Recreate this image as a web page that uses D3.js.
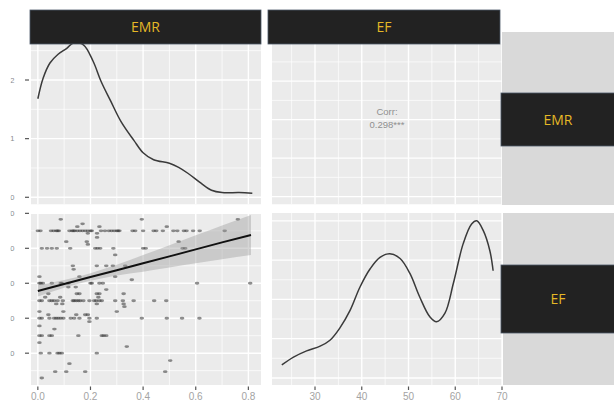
<!DOCTYPE html>
<html>
<head>
<meta charset="utf-8">
<script src="https://cdn.jsdelivr.net/npm/d3@7"></script>
<style>
  body { margin: 0; background: #fff; }
  svg { display: block; }
</style>
</head>
<body>
<svg></svg>
<script>
// variable names (strip labels)
const varNames = ['EMR', 'EF'];

// density of EMR (top-left diagonal panel)
const emrDensX = [0.0, 0.02, 0.046, 0.077, 0.11, 0.135, 0.173, 0.21, 0.24, 0.277, 0.315, 0.365, 0.40, 0.44, 0.50, 0.535, 0.57, 0.62, 0.66, 0.70, 0.765, 0.815];
const emrDensY = [1.68, 2.03, 2.29, 2.44, 2.54, 2.63, 2.6, 2.32, 1.98, 1.64, 1.3, 0.97, 0.76, 0.64, 0.58, 0.51, 0.41, 0.24, 0.12, 0.08, 0.08, 0.07];

// density of EF (bottom-right diagonal panel)
const efDensX = [22.9, 25.4, 28.2, 31.1, 33.2, 35.3, 37.5, 39.6, 41.8, 43.9, 46.0, 48.2, 50.3, 52.4, 54.6, 56.0, 57.8, 59.6, 61.7, 63.5, 64.6, 66.0, 67.4, 68.1];
const efDensY = [0.0033, 0.0053, 0.0069, 0.0081, 0.0096, 0.0127, 0.0172, 0.0231, 0.0278, 0.0307, 0.0316, 0.0304, 0.0266, 0.0206, 0.0155, 0.0143, 0.0165, 0.0241, 0.0342, 0.0392, 0.0400, 0.0375, 0.0324, 0.0273];

// scatter: one EF value per row, with the EMR values found on that row
const scatterEF = [68.3, 67, 66.2, 65, 64.3, 63.1, 61.9, 61.1, 60, 58.1, 55, 54, 51.9, 51, 50, 48.9, 48.2, 47, 46, 45,
  44.1, 43.3, 41.9, 41, 40, 39, 37.8, 36.9, 35, 33, 31.9, 30, 27.9, 27, 24.7, 22.9];
const scatterEMR = [
  [0.087, 0.395, 0.76],
  [0.17],
  [0.15, 0.234, 0.49],
  [0.0, 0.01, 0.05, 0.06, 0.07, 0.075, 0.08, 0.12, 0.13, 0.135, 0.14, 0.15, 0.16, 0.17, 0.18, 0.19, 0.20, 0.205, 0.24, 0.255,
    0.27, 0.28, 0.29, 0.30, 0.305, 0.31, 0.36, 0.37, 0.40, 0.44, 0.45, 0.475, 0.515, 0.53, 0.555, 0.565, 0.59, 0.615, 0.71],
  [0.19, 0.225],
  [0.225],
  [0.108, 0.186, 0.535],
  [0.19],
  [0.015, 0.035, 0.053, 0.072, 0.123, 0.218, 0.227, 0.237, 0.287, 0.40, 0.41, 0.55, 0.56],
  [0.294],
  [0.133, 0.224, 0.26, 0.285, 0.332],
  [0.136],
  [0.006, 0.158, 0.294],
  [0.357],
  [0.006, 0.011, 0.019, 0.053, 0.087, 0.091, 0.116, 0.2, 0.205, 0.234, 0.247, 0.605, 0.807],
  [0.116, 0.144],
  [0.26],
  [0.04, 0.148, 0.158, 0.224, 0.234, 0.326],
  [0.028, 0.085, 0.23],
  [0.006, 0.015, 0.044, 0.053, 0.062, 0.075, 0.095, 0.133, 0.138, 0.146, 0.154, 0.161, 0.173, 0.196, 0.214, 0.222, 0.234,
    0.243, 0.294, 0.323, 0.364, 0.442, 0.488],
  [0.07, 0.093, 0.224, 0.326],
  [0.329],
  [0.006, 0.097, 0.3],
  [0.04, 0.146, 0.18, 0.19],
  [0.006, 0.015, 0.044, 0.062, 0.07, 0.078, 0.087, 0.097, 0.125, 0.138, 0.158, 0.196, 0.224, 0.395, 0.49, 0.548, 0.614],
  [0.196],
  [0.006],
  [0.063],
  [0.006, 0.015, 0.044, 0.053, 0.154, 0.243, 0.25, 0.26],
  [0.006],
  [0.338],
  [0.011, 0.044, 0.075, 0.082, 0.091, 0.224],
  [0.503],
  [0.12],
  [0.066, 0.108, 0.18, 0.484],
  [0.015]
];

// linear fit with its confidence band
const fitEMR = [0, 0.1, 0.2, 0.3, 0.4, 0.5, 0.6, 0.7, 0.81];
const fitEF = [47.8, 49.8, 51.8, 53.7, 55.7, 57.7, 59.7, 61.7, 63.8];
const fitLow = [46.2, 48.7, 50.7, 52.2, 53.3, 54.5, 55.7, 56.9, 58.1];
const fitHigh = [49.5, 50.9, 52.9, 55.3, 58.1, 60.9, 63.7, 66.5, 69.5];

const corrLabel = ['Corr:', '0.298***'];

// tick labels
const emrTicks = [0, 0.2, 0.4, 0.6, 0.8];
const efTicks = [30, 40, 50, 60, 70];
const densTicks = [0, 1, 2];

const width = 614;
const height = 401;

const svg = d3.select('svg')
  .attr('width', width)
  .attr('height', height)
  .style('font-family', '"Liberation Sans", Arial, sans-serif');

const col1 = [31, 261];
const col2 = [272, 502];
const row1 = [44, 204.5];
const row2 = [213, 385];

const xEMR = d3.scaleLinear().domain([-0.026, 0.848]).range(col1);
const xEF = d3.scaleLinear().domain([20.8, 70]).range(col2);
const yDensEMR = d3.scaleLinear().domain([-0.123, 2.614]).range([row1[1], row1[0]]);
const yCorr = d3.scaleLinear().domain([-0.041, 0.793]).range([row1[1], row1[0]]);
const yEF = d3.scaleLinear().domain([20.9, 70.1]).range([row2[1], row2[0]]);
const yDensEF = d3.scaleLinear().domain([-0.0018, 0.042]).range([row2[1], row2[0]]);

// grey background behind the row strips
svg.append('rect').attr('x', 502).attr('y', 32).attr('width', 112).attr('height', 173).attr('fill', '#d9d9d9');
svg.append('rect').attr('x', 503).attr('y', 213).attr('width', 111).attr('height', 172).attr('fill', '#d9d9d9');

let clipId = 0;
function panel(x, y, xMaj, xMin, yMaj, yMin) {
  const [x0, x1] = x.range();
  const [y1, y0] = y.range();
  const id = 'clip' + (clipId++);
  svg.append('clipPath').attr('id', id)
    .append('rect').attr('x', x0).attr('y', y0).attr('width', x1 - x0).attr('height', y1 - y0);
  const g = svg.append('g').attr('clip-path', `url(#${id})`);
  g.append('rect')
    .attr('x', x0).attr('y', y0).attr('width', x1 - x0).attr('height', y1 - y0)
    .attr('fill', '#ebebeb');
  const minorX = x.ticks(xMin).filter(v => !x.ticks(xMaj).some(m => Math.abs(m - v) < 1e-9));
  const minorY = y.ticks(yMin).filter(v => !y.ticks(yMaj).some(m => Math.abs(m - v) < 1e-9));
  g.selectAll(null).data(minorX).enter().append('line')
    .attr('x1', d => x(d)).attr('x2', d => x(d)).attr('y1', y0).attr('y2', y1)
    .attr('stroke', '#fff').attr('stroke-width', 0.7);
  g.selectAll(null).data(minorY).enter().append('line')
    .attr('y1', d => y(d)).attr('y2', d => y(d)).attr('x1', x0).attr('x2', x1)
    .attr('stroke', '#fff').attr('stroke-width', 0.7);
  g.selectAll(null).data(x.ticks(xMaj)).enter().append('line')
    .attr('x1', d => x(d)).attr('x2', d => x(d)).attr('y1', y0).attr('y2', y1)
    .attr('stroke', '#fff').attr('stroke-width', 1.4);
  g.selectAll(null).data(y.ticks(yMaj)).enter().append('line')
    .attr('y1', d => y(d)).attr('y2', d => y(d)).attr('x1', x0).attr('x2', x1)
    .attr('stroke', '#fff').attr('stroke-width', 1.4);
  return g;
}

// top-left: EMR density
const p11 = panel(xEMR, yDensEMR, 5, 10, 3, 6);
p11.append('path')
  .datum(emrDensX.map((v, i) => [v, emrDensY[i]]))
  .attr('fill', 'none')
  .attr('stroke', '#3a3a3a')
  .attr('stroke-width', 1.5)
  .attr('d', d3.line().x(d => xEMR(d[0])).y(d => yDensEMR(d[1])).curve(d3.curveCatmullRom));

// top-right: correlation text
const p12 = panel(xEF, yCorr, 5, 10, 4, 8);
p12.selectAll(null).data(corrLabel).enter().append('text')
  .attr('x', (col2[0] + col2[1]) / 2)
  .attr('y', (d, i) => 115 + i * 13)
  .attr('text-anchor', 'middle')
  .attr('font-size', 9.5)
  .attr('fill', '#909090')
  .text(d => d);

// bottom-left: scatter with linear fit
const p21 = panel(xEMR, yEF, 5, 10, 5, 10);
const points = [];
scatterEF.forEach((ef, i) => scatterEMR[i].forEach(emr => points.push([emr, ef])));
p21.selectAll(null).data(points).enter().append('ellipse')
  .attr('cx', d => xEMR(d[0]))
  .attr('cy', d => yEF(d[1]))
  .attr('rx', 2.3)
  .attr('ry', 1.4)
  .attr('fill', '#333')
  .attr('opacity', 0.55);
p21.append('path')
  .datum(fitEMR.map((v, i) => [v, fitLow[i], fitHigh[i]]))
  .attr('fill', '#999')
  .attr('opacity', 0.4)
  .attr('d', d3.area().x(d => xEMR(d[0])).y0(d => yEF(d[1])).y1(d => yEF(d[2])).curve(d3.curveMonotoneX));
p21.append('path')
  .datum(fitEMR.map((v, i) => [v, fitEF[i]]))
  .attr('fill', 'none')
  .attr('stroke', '#111')
  .attr('stroke-width', 2)
  .attr('d', d3.line().x(d => xEMR(d[0])).y(d => yEF(d[1])));

// bottom-right: EF density
const p22 = panel(xEF, yDensEF, 5, 10, 5, 10);
p22.append('path')
  .datum(efDensX.map((v, i) => [v, efDensY[i]]))
  .attr('fill', 'none')
  .attr('stroke', '#3a3a3a')
  .attr('stroke-width', 1.5)
  .attr('d', d3.line().x(d => xEF(d[0])).y(d => yDensEF(d[1])).curve(d3.curveCatmullRom));

// strips
function strip(x, y, w, h, label) {
  svg.append('rect')
    .attr('x', x).attr('y', y).attr('width', w).attr('height', h)
    .attr('fill', '#222')
    .attr('stroke', '#4c5868')
    .attr('stroke-width', 0.8);
  svg.append('text')
    .attr('x', x + w / 2)
    .attr('y', y + h / 2)
    .attr('dy', '0.36em')
    .attr('text-anchor', 'middle')
    .attr('font-family', '"Open Sans", sans-serif')
    .attr('font-size', 14)
    .attr('fill', '#e6b826')
    .text(label);
}
strip(30, 10, 231, 34, varNames[0]);
strip(268, 10, 232, 34, varNames[1]);
strip(501, 93, 114, 53, varNames[0]);
strip(501, 265, 114, 68, varNames[1]);

// axes
const axisColor = '#a3a3a3';
const tickColor = '#555';

function xAxis(scale, ticks, fmt) {
  const g = svg.append('g');
  g.selectAll(null).data(ticks).enter().append('line')
    .attr('x1', d => scale(d)).attr('x2', d => scale(d))
    .attr('y1', 386.5).attr('y2', 390)
    .attr('stroke', tickColor).attr('stroke-width', 1.2);
  g.selectAll(null).data(ticks).enter().append('text')
    .attr('x', d => scale(d)).attr('y', 400)
    .attr('text-anchor', 'middle')
    .attr('font-size', 10)
    .attr('fill', axisColor)
    .text(fmt);
}
xAxis(xEMR, emrTicks, d3.format('.1f'));
xAxis(xEF, efTicks, d3.format('d'));

svg.append('clipPath').attr('id', 'yclip')
  .append('rect').attr('x', 10.5).attr('y', 0).attr('width', 30).attr('height', height);

function yAxis(scale, ticks) {
  const g = svg.append('g');
  g.selectAll(null).data(ticks).enter().append('line')
    .attr('x1', 25).attr('x2', 29)
    .attr('y1', d => scale(d)).attr('y2', d => scale(d))
    .attr('stroke', tickColor).attr('stroke-width', 1.2);
  g.append('g').attr('clip-path', 'url(#yclip)')
    .selectAll(null).data(ticks).enter().append('text')
    .attr('x', 14.5).attr('y', d => scale(d))
    .attr('dy', '0.35em')
    .attr('text-anchor', 'end')
    .attr('font-size', 7.5)
    .attr('fill', '#8a8a8a')
    .text(d => d);
}
yAxis(yDensEMR, densTicks);
yAxis(yEF, efTicks);
</script>
</body>
</html>
